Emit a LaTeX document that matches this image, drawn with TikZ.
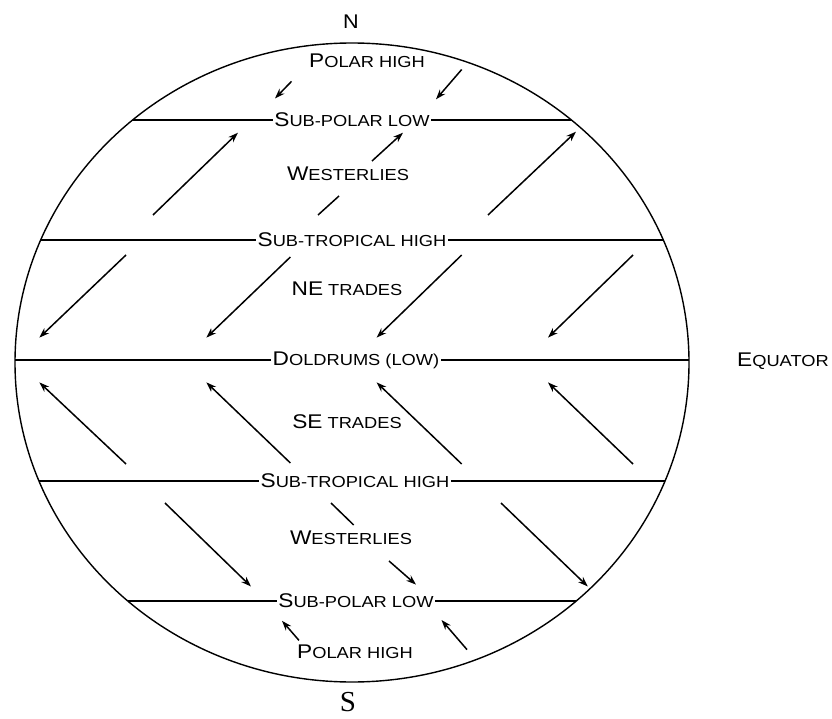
\documentclass[tikz,border=0pt]{standalone}
\usepackage{graphicx}
\usepackage{fontspec}
\setmainfont{Liberation Sans}
\newfontfamily\serifS{Liberation Serif}
\usetikzlibrary{arrows.meta}
\newcommand\smc[2]{\scalebox{1.26}[1.1]{{\fontsize{18}{20}\selectfont #1}{\fontsize{14.5}{16}\selectfont #2}}}
\begin{document}
\begin{tikzpicture}[x=1pt,y=-1pt,
  wind/.style={line width=1.5pt,-{Stealth[length=10pt,width=7pt]}},
  stub/.style={line width=1.5pt},
  band/.style={line width=1.2pt},
  lbl/.style={fill=white,inner xsep=1.5pt,inner ysep=1pt},
  txt/.style={inner sep=0pt}]
\useasboundingbox (0,0) rectangle (832,719);
\coordinate (c) at (352,362.5);
\begin{scope}
\clip (c) ellipse [x radius=337, y radius=319.5];
\foreach \y in {120,240,360,481,601} \draw[band] (0,\y) -- (832,\y);
\end{scope}
\draw[line width=1.4pt] (c) ellipse [x radius=337, y radius=319.5];
% labels
\node[txt] (n) at (351,22) {\scalebox{1.2}[1.1]{\fontsize{18}{20}\selectfont N}};
\node[txt] (ph1) at (367,61) {\smc{P}{OLAR HIGH}};
\node[lbl] (spl1) at (352,120) {\smc{S}{UB-POLAR LOW}};
\node[txt] (w1) at (348,174) {\smc{W}{ESTERLIES}};
\node[lbl] (sth1) at (352,240) {\smc{S}{UB-TROPICAL HIGH}};
\node[txt] (ne) at (347,289) {\smc{NE}{ TRADES}};
\node[lbl] (dol) at (356,360) {\smc{D}{OLDRUMS (LOW)}};
\node[txt] (se) at (347,422) {\smc{SE}{ TRADES}};
\node[lbl] (sth2) at (355,481) {\smc{S}{UB-TROPICAL HIGH}};
\node[txt] (w2) at (351,537.5) {\smc{W}{ESTERLIES}};
\node[lbl] (spl2) at (356,601) {\smc{S}{UB-POLAR LOW}};
\node[txt] (ph2) at (355,652) {\smc{P}{OLAR HIGH}};
\node[txt,anchor=base] (s) at (348,711) {\serifS\fontsize{29}{31}\selectfont S};
\node[txt] (eq) at (783,361) {\smc{E}{QUATOR}};
% north polar high
\draw[wind] (291.5,81.4) -- (275,98.4);
\draw[wind] (461.7,69.5) -- (436,99.3);
% north westerlies
\draw[wind] (153,215) -- (238,132.7);
\draw[stub] (318,215) -- (339,196);
\draw[wind] (372,161) -- (403,132.7);
\draw[wind] (488,215) -- (576,131.7);
% NE trades
\draw[wind] (126,255) -- (39.4,337.6);
\draw[wind] (290.4,257) -- (206.4,337.6);
\draw[wind] (461.7,255) -- (376.6,337.6);
\draw[wind] (633,255) -- (548,337.6);
% SE trades
\draw[wind] (126,464) -- (39.4,382.4);
\draw[wind] (290.4,463) -- (206.4,382.4);
\draw[wind] (461.7,464) -- (376.6,382.4);
\draw[wind] (633,464) -- (548,382.4);
% south westerlies
\draw[wind] (165,503) -- (251,586.5);
\draw[stub] (331,503) -- (353.7,525);
\draw[wind] (389,561) -- (416,584.6);
\draw[wind] (501,503) -- (587.8,586.5);
% south polar high
\draw[wind] (299,640.4) -- (282,620.8);
\draw[wind] (467,649.6) -- (441.5,620);
\end{tikzpicture}
\end{document}
